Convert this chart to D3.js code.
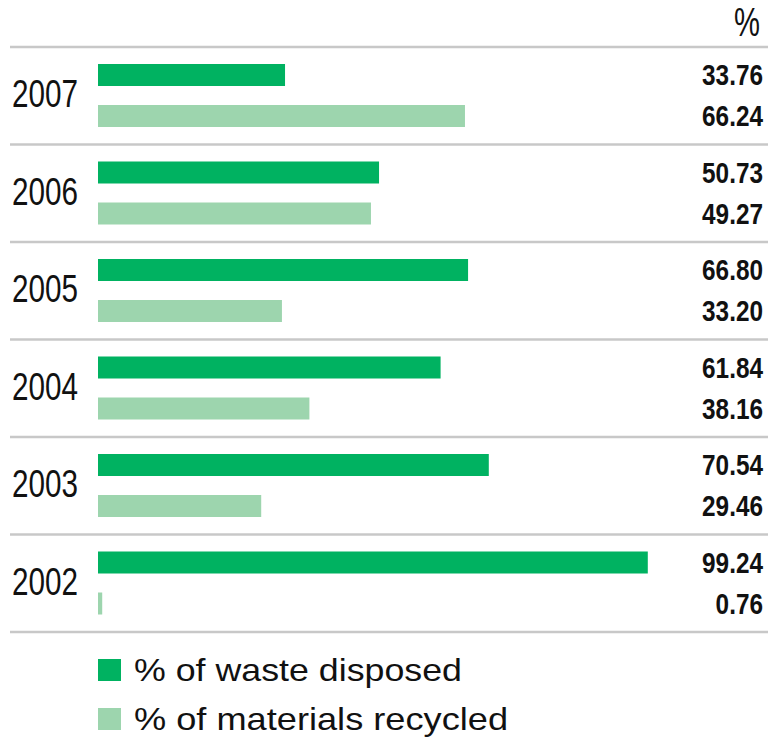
<!DOCTYPE html>
<html><head><meta charset="utf-8">
<script src="https://cdn.jsdelivr.net/npm/d3@7"></script>
<style>body{margin:0;background:#fff}</style>
</head><body>
<svg id="c" width="768" height="741"></svg>
<script>
const years = ["2007","2006","2005","2004","2003","2002"];
const disposed = [33.76, 50.73, 66.80, 61.84, 70.54, 99.24];
const recycled = [66.24, 49.27, 33.20, 38.16, 29.46, 0.76];
const seriesNames = ["% of waste disposed", "% of materials recycled"];
const unitLabel = "%";

const colors = ["#00b261", "#9dd5ae"];
const font = "'Liberation Sans Narrow','Arial Narrow','Liberation Sans',sans-serif";
const svg = d3.select("#c");

const x = d3.scaleLinear().domain([0, 100]).range([98, 652]);
const y = d3.scaleBand().domain(years).range([47, 632]).padding(0);

// divider lines
const lines = [47].concat(years.map(yr => y(yr) + y.bandwidth()));
svg.selectAll("line.div").data(lines).enter().append("line")
  .attr("x1", 10).attr("x2", 768).attr("y1", d => d).attr("y2", d => d)
  .attr("stroke", "#c8c8c8").attr("stroke-width", 2.5);

svg.append("text").attr("transform", "translate(760,36) scale(0.73,1)").attr("text-anchor", "end")
  .attr("font-family", font).attr("font-size", 40).attr("fill", "#111").text(unitLabel);

const rows = years.map((yr, i) => ({yr, vals: [disposed[i], recycled[i]]}));
const g = svg.selectAll("g.row").data(rows).enter().append("g");

g.append("text").attr("x", 12).attr("y", d => y(d.yr) + 60)
  .attr("font-family", font).attr("font-size", 39).attr("fill", "#111")
  .attr("textLength", 66).attr("lengthAdjust", "spacingAndGlyphs")
  .text(d => d.yr);

const offs = [17, 58];
const labOffs = [38, 79];
[0, 1].forEach(k => {
  g.append("rect").attr("x", x(0)).attr("y", d => y(d.yr) + offs[k])
    .attr("width", d => Math.max(0, x(d.vals[k]) - x(0))).attr("height", 22)
    .attr("fill", colors[k]);
  g.append("text")
    .attr("transform", d => `translate(763,${y(d.yr) + labOffs[k]}) scale(0.84,1)`)
    .attr("text-anchor", "end").attr("font-family", font).attr("font-weight", "bold")
    .attr("font-size", 29).attr("fill", "#111")
    .text(d => d.vals[k].toFixed(2));
});

const lg = svg.selectAll("g.leg").data(seriesNames).enter().append("g");
lg.append("rect").attr("x", 98).attr("y", (d, i) => 659 + i * 49).attr("width", 23).attr("height", 22)
  .attr("fill", (d, i) => colors[i]);
lg.append("text").attr("x", 134).attr("y", (d, i) => 681 + i * 49)
  .attr("font-family", font).attr("font-size", 32).attr("fill", "#111")
  .attr("textLength", (d, i) => [328, 374][i]).attr("lengthAdjust", "spacingAndGlyphs")
  .text(d => d);
</script>
</body></html>
